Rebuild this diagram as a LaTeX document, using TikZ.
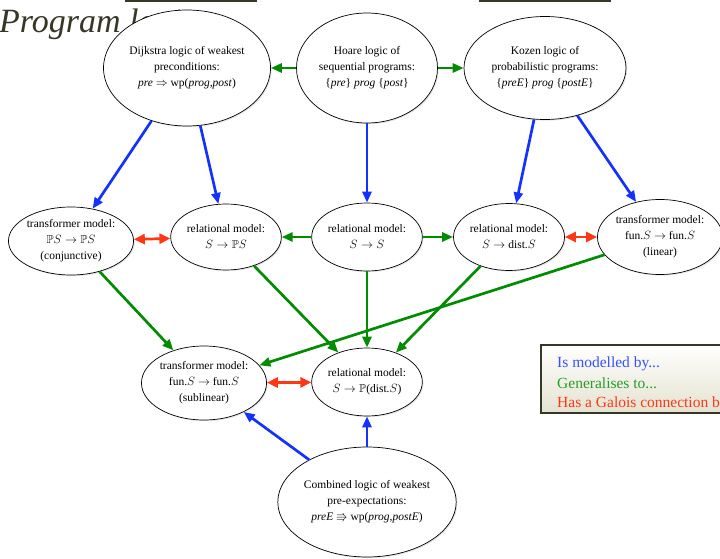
\documentclass[tikz,border=0pt]{standalone}
\usepackage{amssymb}
\usepackage{fontspec}
\setmainfont{Liberation Serif}
\usetikzlibrary{arrows.meta,shapes.geometric,shadows}
\definecolor{modelblue}{RGB}{20,50,255}
\definecolor{gengreen}{RGB}{0,140,0}
\definecolor{galoisred}{RGB}{255,55,20}
\definecolor{slideolive}{RGB}{55,55,40}
\definecolor{keycream}{RGB}{228,226,208}

\begin{document}
\begin{tikzpicture}[x=1pt, y=-1pt,
  logic/.style={ellipse, draw, line width=0.7pt, fill=white, inner sep=0pt,
                align=center, font=\fontsize{11.5}{16}\selectfont,
                drop shadow={opacity=0.2, shadow xshift=1.2pt, shadow yshift=-1.2pt}},
  modarr/.style={-{Triangle[length=11pt,width=9pt]}, line width=2.7pt, modelblue},
  genarr/.style={-{Triangle[length=11pt,width=9pt]}, line width=2.7pt, gengreen},
  galarr/.style={{Triangle[length=11pt,width=10pt]}-{Triangle[length=11pt,width=10pt]},
                 line width=2.7pt, galoisred},
  key/.style={anchor=west, inner sep=0pt, font=\fontsize{15.5}{18}\selectfont}
]
\useasboundingbox (0,0) rectangle (720,559);
\clip (0,0) rectangle (720,559);

% slide decoration
\fill[slideolive] (125,0) rectangle (257,2.5);
\fill[slideolive] (479,0) rectangle (611,2.5);
\node[anchor=base west, inner sep=0pt, text=slideolive,
      font=\fontsize{34}{34}\selectfont\itshape] (title) at (-1,33) {Program logic};

% logics
\node[logic, minimum width=167pt, minimum height=116pt] (dijkstra) at (187,68)
  {Dijkstra logic of weakest\\preconditions:\\\textit{pre} $\Rightarrow$ wp(\textit{prog,post})};
\node[logic, minimum width=141pt, minimum height=110pt] (hoare) at (367,68)
  {Hoare logic of\\sequential programs:\\\{\textit{pre}\} \textit{prog} \{\textit{post}\}};
\node[logic, minimum width=162pt, minimum height=103pt] (kozen) at (545,68)
  {Kozen logic of\\probabilistic programs:\\\{\textit{preE}\} \textit{prog} \{\textit{postE}\}};

% models
\node[logic, minimum width=124pt, minimum height=68pt] (conj) at (71,241)
  {transformer model:\\$\mathbb{P}S \rightarrow \mathbb{P}S$\\(conjunctive)};
\node[logic, minimum width=110pt, minimum height=66pt] (relpow) at (226,237)
  {relational model:\\$S \rightarrow \mathbb{P}S$};
\node[logic, minimum width=110pt, minimum height=68pt] (relfun) at (367,237)
  {relational model:\\$S \rightarrow S$};
\node[logic, minimum width=111pt, minimum height=67pt] (reldist) at (509,237)
  {relational model:\\$S \rightarrow$ dist.$S$};
\node[logic, minimum width=116pt, minimum height=75pt] (linear) at (660,237)
  {transformer model:\\fun.$S$ $\rightarrow$ fun.$S$\\(linear)};
\node[logic, minimum width=124pt, minimum height=74pt] (sublin) at (204,383)
  {transformer model:\\fun.$S$ $\rightarrow$ fun.$S$\\(sublinear)};
\node[logic, minimum width=106pt, minimum height=68pt] (relpdist) at (367,382)
  {relational model:\\$S \rightarrow \mathbb{P}$(dist.$S$)};
\node[logic, minimum width=158pt, minimum height=110pt] (combined) at (367,502)
  {Combined logic of weakest\\pre-expectations:\\\textit{preE} $\Rrightarrow$ wp(\textit{prog,postE})};

% is modelled by
\draw[modarr] (dijkstra) -- (conj);
\draw[modarr] (dijkstra) -- (relpow);
\draw[modarr] (hoare) -- (relfun);
\draw[modarr] (kozen) -- (reldist);
\draw[modarr] (kozen) -- (linear);
\draw[modarr] (combined) -- (sublin);
\draw[modarr] (combined) -- (relpdist);

% generalises to
\draw[genarr] (hoare) -- (dijkstra);
\draw[genarr] (hoare) -- (kozen);
\draw[genarr] (relfun) -- (relpow);
\draw[genarr] (relfun) -- (reldist);
\draw[genarr] (conj) -- (sublin);
\draw[genarr] (relpow) -- (relpdist);
\draw[genarr] (relfun) -- (relpdist);
\draw[genarr] (reldist) -- (relpdist);
\draw[genarr] (linear) -- (sublin);

% galois connections
\draw[galarr] (conj) -- (relpow);
\draw[galarr] (reldist) -- (linear);
\draw[galarr] (sublin) -- (relpdist);

% key
\draw[slideolive, line width=2pt, top color=white, bottom color=keycream]
  (541,345) rectangle (760,413);
\node[key, text=modelblue!85!white] (keymod) at (557,364) {Is modelled by...};
\node[key, text=gengreen!85!white] (keygen) at (557,383) {Generalises to...};
\node[key, text=galoisred] (keygal) at (557,402) {Has a Galois connection between...};
\end{tikzpicture}
\end{document}
